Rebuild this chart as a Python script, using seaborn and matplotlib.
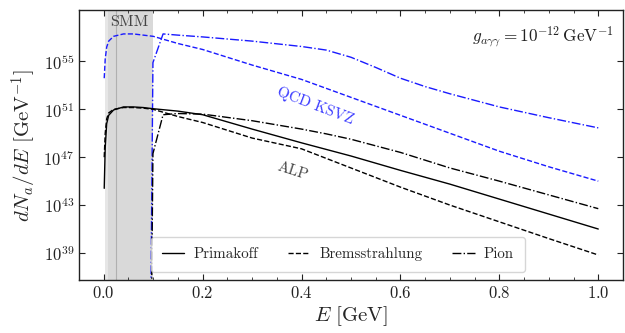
import numpy as np
import pandas as pd
import matplotlib
matplotlib.use("Agg")
import matplotlib.pyplot as plt
from matplotlib.ticker import MultipleLocator, NullLocator, LogFormatterSciNotation
import seaborn as sns

# ---------------- data (log10 of dN/dE) ----------------
E_main = [0.001, 0.003, 0.006, 0.01, 0.02, 0.04, 0.06, 0.08, 0.1, 0.15, 0.2,
          0.3, 0.4, 0.5, 0.6, 0.7, 0.8, 0.9, 1.0]
primakoff_alp = [44.4, 47.8, 49.8, 50.5, 50.95, 51.2, 51.2, 51.15, 51.05, 50.85, 50.55,
                 49.35, 48.2, 47.1, 45.9, 44.75, 43.5, 42.25, 41.0]
brems_alp = [47.0, 49.0, 50.2, 50.7, 51.0, 51.15, 51.15, 51.1, 51.0, 50.4, 49.9,
             48.6, 47.7, 46.1, 44.5, 43.0, 41.6, 40.2, 38.83]
brems_qcd = [53.6, 55.2, 56.2, 56.7, 57.1, 57.3, 57.3, 57.2, 57.1, 56.5, 56.0,
             54.7, 53.5, 52.0, 50.5, 49.0, 47.5, 46.2, 45.0]

E_pion = [0.0955, 0.0995, 0.12, 0.15, 0.2, 0.3, 0.4, 0.45, 0.5, 0.55, 0.6,
          0.65, 0.7, 0.8, 0.9, 1.0]
pion_alp = [30.0, 47.3, 50.55, 50.65, 50.6, 50.05, 49.35, 48.95, 48.5, 47.95, 47.4,
            46.75, 46.1, 45.0, 43.85, 42.7]
pion_qcd = [36.0, 54.9, 57.3, 57.2, 57.05, 56.7, 56.25, 55.95, 55.35, 54.5, 53.6,
            52.9, 52.3, 51.2, 50.3, 49.45]

legend_labels = ["Primakoff", "Bremsstrahlung", "Pion"]
x_ticks = [0.0, 0.2, 0.4, 0.6, 0.8, 1.0]
y_tick_exponents = [39, 43, 47, 51, 55]

# ---------------- style ----------------
sns.set_theme(style="ticks")
plt.rcParams.update({
    "font.family": ["serif"],
    "font.serif": ["cmr10", "DejaVu Serif"],
    "mathtext.fontset": "cm",
    "axes.formatter.use_mathtext": True,
    "axes.unicode_minus": False,
    "xtick.direction": "in",
    "ytick.direction": "in",
    "xtick.top": True,
    "ytick.right": True,
})

fig = plt.figure(figsize=(6.25, 3.33), dpi=100)
ax = fig.add_axes([0.1264, 0.1577, 0.8704, 0.8123])

# SMM band
ax.axvspan(0.0035, 0.0095, color="#e6e6e6", lw=0, zorder=0)
ax.axvspan(0.0095, 0.1, color="#d9d9d9", lw=0, zorder=0)
ax.axvline(0.025, color="#b0b0b0", lw=0.8, zorder=0.5)
ax.text(0.052, 10**58.25, "SMM", ha="center", va="center", fontsize=11.5, color="#444444")

def tbl(E, logv):
    return pd.DataFrame({"E": E, "dNdE": 10.0 ** np.asarray(logv)})

lw = 1.0
blue = "#1a1aff"
sns.lineplot(data=tbl(E_main, brems_qcd), x="E", y="dNdE", ax=ax, color=blue,
             lw=lw, linestyle="--", sort=False, estimator=None)
sns.lineplot(data=tbl(E_pion, pion_qcd), x="E", y="dNdE", ax=ax, color=blue,
             lw=lw, linestyle="-.", sort=False, estimator=None)
sns.lineplot(data=tbl(E_main, primakoff_alp), x="E", y="dNdE", ax=ax, color="black",
             lw=lw, linestyle="-", sort=False, estimator=None, label=legend_labels[0])
sns.lineplot(data=tbl(E_main, brems_alp), x="E", y="dNdE", ax=ax, color="black",
             lw=lw, linestyle="--", sort=False, estimator=None, label=legend_labels[1])
sns.lineplot(data=tbl(E_pion, pion_alp), x="E", y="dNdE", ax=ax, color="black",
             lw=lw, linestyle="-.", sort=False, estimator=None, label=legend_labels[2])

ax.set_yscale("log")
ax.set_xlim(-0.05, 1.05)
ax.set_ylim(10**36.7, 10**59.3)
ax.set_xticks(x_ticks)
ax.xaxis.set_minor_locator(MultipleLocator(0.05))
ax.set_yticks([10.0 ** e for e in y_tick_exponents])
ax.yaxis.set_major_formatter(LogFormatterSciNotation())
ax.yaxis.set_minor_locator(NullLocator())
ax.tick_params(which="major", length=4.5, width=0.8, labelsize=12, colors="#222222")
ax.tick_params(which="minor", length=2.5, width=0.6)
for s in ax.spines.values():
    s.set_color("#222222")
    s.set_linewidth(1.0)

ax.set_xlabel(r"$E\ [\mathrm{GeV}]$", fontsize=15, labelpad=2)
ax.set_ylabel(r"$dN_a/dE\ [\mathrm{GeV}^{-1}]$", fontsize=15, labelpad=3)

ax.text(0.983, 0.9, r"$g_{a\gamma\gamma} = 10^{-12}\,\mathrm{GeV}^{-1}$",
        transform=ax.transAxes, ha="right", va="center", fontsize=12.4, color="#222222")
ax.text(0.427, 10**51.25, "QCD KSVZ", rotation=-21, ha="center", va="center",
        fontsize=11, color="#3c3cff")
ax.text(0.383, 10**45.8, "ALP", rotation=-18, ha="center", va="center",
        fontsize=11, color="#444444")

ax.legend(loc="lower center", bbox_to_anchor=(0.476, 0.005), ncol=3, fontsize=10.8,
          frameon=True, handlelength=1.5, handletextpad=0.6, columnspacing=2.0,
          borderpad=0.7)

fig.savefig("out.png", dpi=100)
